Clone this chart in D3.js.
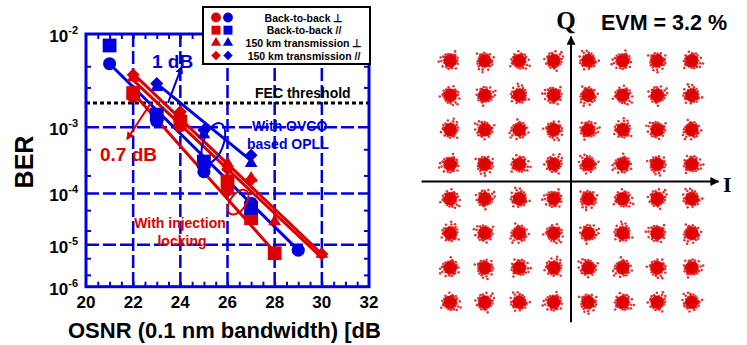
<!DOCTYPE html>
<html>
<head>
<meta charset="utf-8">
<script src="https://cdn.jsdelivr.net/npm/d3@7"></script>
<style>
  body { margin: 0; background: #fff; }
  text { font-family: "Liberation Sans", Arial, sans-serif; font-weight: bold; }
</style>
</head>
<body>
<svg id="fig" width="747" height="345"></svg>
<script>
// ---- BER plot data ----
const xTicks = [20, 22, 24, 26, 28, 30, 32];
const yTickExp = [-2, -3, -4, -5, -6];
const gridX = [22, 24, 26, 28, 30];
const gridY = [1e-3, 1e-4, 1e-5];
const fecBER = 2e-3;

// injection locking (red)
const redCircle   = [[22, 2.4e-3], [24, 1.05e-3], [26, 1.15e-4], [28, 6.3e-6]];
const redSquare   = [[22, 2.6e-3], [24, 1.18e-3], [26, 1.6e-4], [27, 3.5e-5], [28, 6.5e-6]];
const redTriangle = [[22, 3.8e-3], [24, 1.5e-3], [26, 3.1e-4], [27, 1.8e-4], [28, 3.0e-5], [30, 6.2e-6]];
const redDiamond  = [[22, 4.1e-3], [24, 1.57e-3], [26, 2.5e-4], [27, 1.7e-4], [30, 6.2e-6]];
// OVCO based OPLL (blue)
const blueCircle   = [[21, 5.3e-3], [23, 1.2e-3], [25, 2.3e-4], [27, 6.7e-5], [29, 7.6e-6]];
const blueSquare   = [[21, 7.9e-3], [23, 1.45e-3], [25, 3.3e-4], [27, 5.5e-5]];
const blueTriangle = [[23, 3.0e-3], [25, 8.0e-4], [27, 3.1e-4]];
const blueDiamond  = [[23, 3.3e-3], [25, 9.2e-4], [27, 4.1e-4]];

// fitted lines (end points)
const redFits  = [[[22, 2.6e-3], [28.1, 6.0e-6]], [[22, 4.2e-3], [30, 6.2e-6]], [[22, 3.6e-3], [29.8, 6.4e-6]]];
const blueFits = [[[21, 5.3e-3], [29, 7.6e-6]], [[23, 3.3e-3], [27, 3.4e-4]]];

const legendLabels = ["Back-to-back \u22a5", "Back-to-back //", "150 km transmission \u22a5", "150 km transmission //"];

// ---- constellation data ----
const levels = [-7, -5, -3, -1, 1, 3, 5, 7];
const cloud = [
  [0.02, -0.05], [0.12, 0.08], [-0.10, 0.04], [0.05, 0.18], [-0.18, -0.09], [0.21, -0.12], [-0.04, 0.22],
  [0.15, 0.25], [-0.25, 0.14], [0.30, 0.02], [-0.08, -0.26], [0.09, -0.20], [-0.30, -0.02], [0.26, 0.17],
  [-0.14, 0.30], [0.02, 0.34], [0.36, -0.08], [-0.35, 0.20], [0.18, -0.33], [-0.22, -0.30], [0.00, 0.08],
  [-0.06, -0.12], [0.14, -0.02], [-0.16, 0.12], [0.07, 0.12], [0.24, 0.06], [-0.12, -0.18], [0.10, -0.10],
  [-0.03, 0.15], [-0.20, 0.00], [0.40, 0.22], [-0.42, -0.15], [0.12, 0.42], [-0.10, -0.40], [0.45, -0.25],
  [-0.28, 0.38], [0.33, 0.35], [-0.45, 0.08], [0.05, -0.45], [0.22, -0.42], [0.55, 0.05], [-0.05, 0.55],
  [-0.52, -0.32], [0.38, -0.45], [0.60, -0.30], [0.28, -0.22], [-0.33, -0.20], [0.19, 0.36], [-0.24, 0.26],
  [0.34, 0.12], [-0.38, -0.05], [0.06, -0.32], [-0.15, -0.05], [0.08, 0.02], [-0.02, -0.20], [0.17, 0.14]
];

const RED = "#dd0000", BLUE = "#0000dd";
const svg = d3.select("#fig");
svg.append("rect").attr("width", 747).attr("height", 345).attr("fill", "#fff");

// ================= left: BER plot =================
const left = svg.append("g");
const x = d3.scaleLinear().domain([20, 32]).range([86, 369]);
// BER axis is linear in log10(-log10(BER))
const yT = d3.scaleLinear().domain([Math.log10(2), Math.log10(6)]).range([34, 286.7]);
const y = v => yT(Math.log10(-Math.log10(v)));

// grid
left.selectAll(".gx").data(gridX).join("line")
  .attr("x1", d => x(d)).attr("x2", d => x(d)).attr("y1", yT.range()[0]).attr("y2", yT.range()[1])
  .attr("stroke", BLUE).attr("stroke-width", 2.5).attr("stroke-dasharray", "13,4");
left.selectAll(".gy").data(gridY).join("line")
  .attr("x1", x(20)).attr("x2", x(32)).attr("y1", d => y(d)).attr("y2", d => y(d))
  .attr("stroke", BLUE).attr("stroke-width", 2.5).attr("stroke-dasharray", "13,4");

// minor ticks (inward)
const minorX = d3.range(20.5, 32, 0.5);
left.append("g").attr("transform", `translate(0,${yT.range()[1]})`)
  .call(d3.axisBottom(x).tickValues(minorX).tickSize(-5).tickFormat(""))
  .call(g => g.select(".domain").remove())
  .call(g => g.selectAll("line").attr("stroke", BLUE).attr("stroke-width", 2));
left.append("g").attr("transform", `translate(0,${yT.range()[0]})`)
  .call(d3.axisTop(x).tickValues(minorX).tickSize(-5).tickFormat(""))
  .call(g => g.select(".domain").remove())
  .call(g => g.selectAll("line").attr("stroke", BLUE).attr("stroke-width", 2));
const minorY = [5e-3, 3e-3, 5e-4, 2e-4, 5e-5, 2e-5, 5e-6, 2e-6].map(v => Math.log10(-Math.log10(v)));
left.append("g").attr("transform", `translate(${x(20)},0)`)
  .call(d3.axisLeft(yT).tickValues(minorY).tickSize(-5).tickFormat(""))
  .call(g => g.select(".domain").remove())
  .call(g => g.selectAll("line").attr("stroke", BLUE).attr("stroke-width", 2));
left.append("g").attr("transform", `translate(${x(32)},0)`)
  .call(d3.axisRight(yT).tickValues(minorY).tickSize(-5).tickFormat(""))
  .call(g => g.select(".domain").remove())
  .call(g => g.selectAll("line").attr("stroke", BLUE).attr("stroke-width", 2));

// FEC threshold
left.append("line").attr("x1", x(20)).attr("x2", x(32)).attr("y1", y(fecBER)).attr("y2", y(fecBER))
  .attr("stroke", "#000").attr("stroke-width", 3).attr("stroke-dasharray", "4,3");

// fit lines
const lineGen = d3.line().x(d => x(d[0])).y(d => y(d[1]));
left.selectAll(".rf").data(redFits).join("path").attr("d", lineGen)
  .attr("fill", "none").attr("stroke", RED).attr("stroke-width", 3);
left.selectAll(".bf").data(blueFits).join("path").attr("d", lineGen)
  .attr("fill", "none").attr("stroke", BLUE).attr("stroke-width", 3);

// markers
const shapes = [
  { type: d3.symbolCircle, size: 135, rot: 0 },
  { type: d3.symbolSquare, size: 190, rot: 0 },
  { type: d3.symbolTriangle, size: 70, rot: 0 },
  { type: d3.symbolSquare, size: 85, rot: 45 }
];
function drawSeries(data, shape, color) {
  left.append("g").selectAll("path").data(data).join("path")
    .attr("d", d3.symbol().type(shape.type).size(shape.size))
    .attr("transform", d => `translate(${x(d[0])},${y(d[1])}) rotate(${shape.rot})`)
    .attr("fill", color);
}
[redCircle, redSquare, redTriangle, redDiamond].forEach((s, i) => drawSeries(s, shapes[i], RED));
[blueCircle, blueSquare, blueTriangle, blueDiamond].forEach((s, i) => drawSeries(s, shapes[i], BLUE));

// annotations
const defs = svg.append("defs");
[["arrB", BLUE], ["arrR", RED]].forEach(([id, c]) => {
  defs.append("marker").attr("id", id).attr("viewBox", "0 0 10 10").attr("refX", 8).attr("refY", 5)
    .attr("markerWidth", 4).attr("markerHeight", 4).attr("orient", "auto")
    .append("path").attr("d", "M0,0L10,5L0,10z").attr("fill", c);
});
left.append("path").attr("d", lineGen([[23.48, 2e-3], [24.05, 4.9e-3]]))
  .attr("stroke", BLUE).attr("stroke-width", 2).attr("fill", "none").attr("marker-end", "url(#arrB)");
left.append("path").attr("d", lineGen([[22.75, 2e-3], [21.75, 7e-4]]))
  .attr("stroke", RED).attr("stroke-width", 2).attr("fill", "none").attr("marker-end", "url(#arrR)");
left.append("ellipse").attr("cx", x(25.4)).attr("cy", y(6.1e-4)).attr("rx", 10).attr("ry", 21)
  .attr("transform", `rotate(20,${x(25.4)},${y(6.1e-4)})`)
  .attr("fill", "none").attr("stroke", BLUE).attr("stroke-width", 2);
left.append("ellipse").attr("cx", x(26.45)).attr("cy", y(7e-5)).attr("rx", 8).attr("ry", 14)
  .attr("transform", `rotate(35,${x(26.45)},${y(7e-5)})`)
  .attr("fill", "none").attr("stroke", RED).attr("stroke-width", 2);

left.append("text").attr("x", 152).attr("y", 68).attr("fill", BLUE).attr("font-size", 19).text("1 dB");
left.append("text").attr("x", 100).attr("y", 161).attr("fill", RED).attr("font-size", 19).text("0.7 dB");
left.append("text").attr("x", 255).attr("y", 98).attr("fill", "#000").attr("font-size", 14).text("FEC threshold");
left.append("text").attr("x", 252).attr("y", 131).attr("fill", BLUE).attr("font-size", 14).text("With OVCO");
left.append("text").attr("x", 247).attr("y", 149).attr("fill", BLUE).attr("font-size", 14).text("based OPLL");
left.append("text").attr("x", 180).attr("y", 228).attr("fill", RED).attr("font-size", 14)
  .attr("text-anchor", "middle").text("With injection");
left.append("text").attr("x", 182).attr("y", 246).attr("fill", RED).attr("font-size", 14)
  .attr("text-anchor", "middle").text("locking");

// frame
left.append("rect").attr("x", x(20)).attr("y", yT.range()[0])
  .attr("width", x(32) - x(20)).attr("height", yT.range()[1] - yT.range()[0])
  .attr("fill", "none").attr("stroke", BLUE).attr("stroke-width", 3);

// tick labels
left.selectAll(".xl").data(xTicks).join("text")
  .attr("x", d => x(d)).attr("y", 308).attr("text-anchor", "middle").attr("font-size", 17).text(d => d);
const yl = left.selectAll(".yl").data(yTickExp).join("text")
  .attr("x", 78).attr("y", d => y(Math.pow(10, d)) + 8).attr("text-anchor", "end").attr("font-size", 17);
yl.append("tspan").text("10");
yl.append("tspan").attr("dy", -8).attr("font-size", 11).text(d => d);

// axis titles
left.append("text").attr("transform", "translate(33,162) rotate(-90)").attr("text-anchor", "middle")
  .attr("font-size", 25).text("BER");
left.append("text").attr("x", 68).attr("y", 338).attr("font-size", 22).text("OSNR (0.1 nm bandwidth) [dB]");

// legend
const lg = left.append("g");
lg.append("rect").attr("x", 203).attr("y", 7).attr("width", 167).attr("height", 57)
  .attr("fill", "#fff").attr("stroke", "#000").attr("stroke-width", 2);
const rowY = d3.scalePoint().domain(d3.range(4)).range([17.5, 55.5]);
const legShapes = [
  { type: d3.symbolCircle, size: 75, rot: 0 },
  { type: d3.symbolSquare, size: 80, rot: 0 },
  { type: d3.symbolTriangle, size: 45, rot: 0 },
  { type: d3.symbolSquare, size: 45, rot: 45 }
];
[[216, RED], [228, BLUE]].forEach(([cx, c]) => {
  lg.append("g").selectAll("path").data(d3.range(4)).join("path")
    .attr("d", i => d3.symbol().type(legShapes[i].type).size(legShapes[i].size)())
    .attr("transform", i => `translate(${cx},${rowY(i)}) rotate(${legShapes[i].rot})`)
    .attr("fill", c);
});
lg.selectAll("text").data(legendLabels).join("text")
  .attr("x", 304).attr("y", (d, i) => rowY(i) + 4).attr("text-anchor", "middle")
  .attr("font-size", 10.5).text(d => d);

// ================= right: constellation =================
const right = svg.append("g");
right.append("rect").attr("x", 380).attr("y", 0).attr("width", 367).attr("height", 345).attr("fill", "#fff");
const xc = d3.scaleLinear().domain([-8, 8]).range([571 - 138, 571 + 138]);
const yc = d3.scaleLinear().domain([-8, 8]).range([181.5 + 138, 181.5 - 138]);
const symbols = [];
levels.forEach(q => levels.forEach(i => symbols.push([i, q])));

const pts = [];
symbols.forEach(([i, q], k) => {
  const a = k * 1.3, ca = Math.cos(a), sa = Math.sin(a);
  cloud.forEach(([dx, dy]) => pts.push([i + dx * ca - dy * sa, q + dx * sa + dy * ca]));
});
right.append("g").selectAll("circle").data(symbols).join("circle")
  .attr("cx", d => xc(d[0])).attr("cy", d => yc(d[1])).attr("r", 6.5).attr("fill", RED).attr("opacity", 0.9);
right.append("g").selectAll("circle").data(pts).join("circle")
  .attr("cx", d => xc(d[0])).attr("cy", d => yc(d[1])).attr("r", 1.3).attr("fill", RED).attr("opacity", 0.8);

defs.append("marker").attr("id", "arrK").attr("viewBox", "0 0 10 10").attr("refX", 9).attr("refY", 5)
  .attr("markerWidth", 4.5).attr("markerHeight", 4.5).attr("orient", "auto")
  .append("path").attr("d", "M0,0L10,5L0,10z").attr("fill", "#000");
right.append("line").attr("x1", xc(-8.66)).attr("x2", xc(8.55)).attr("y1", yc(0)).attr("y2", yc(0))
  .attr("stroke", "#000").attr("stroke-width", 2).attr("marker-end", "url(#arrK)");
right.append("line").attr("x1", xc(0)).attr("x2", xc(0)).attr("y1", yc(-8.16)).attr("y2", yc(8.4))
  .attr("stroke", "#000").attr("stroke-width", 2).attr("marker-end", "url(#arrK)");
right.append("text").attr("x", 566).attr("y", 29).attr("text-anchor", "middle")
  .style("font-family", "'Liberation Serif', 'DejaVu Serif', serif").attr("font-size", 25).text("Q");
right.append("text").attr("x", 723).attr("y", 192)
  .style("font-family", "'Liberation Serif', 'DejaVu Serif', serif").attr("font-size", 22).text("I");
right.append("text").attr("x", 601).attr("y", 30).attr("font-size", 21.5).text("EVM = 3.2 %");
</script>
</body>
</html>
